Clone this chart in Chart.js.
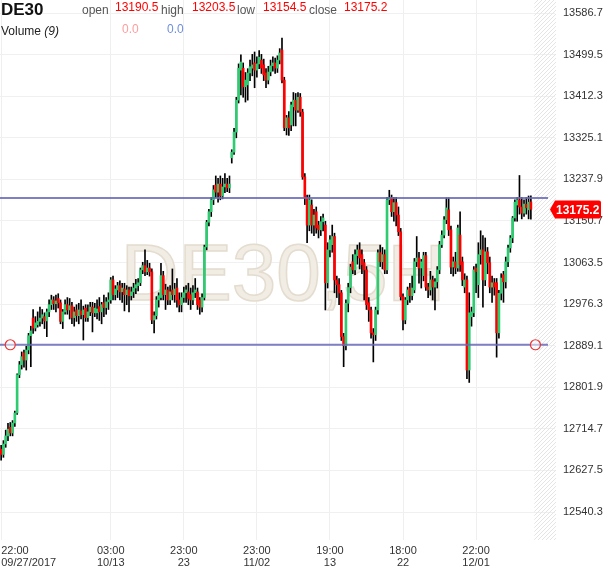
<!DOCTYPE html>
<html>
<head>
<meta charset="utf-8">
<title>DE30</title>
<script src="https://cdn.jsdelivr.net/npm/chart.js@4.4.1/dist/chart.umd.min.js"></script>
<style>
  body { margin: 0; background: #fff; font-family: "Liberation Sans", Arial, sans-serif; }
  #wrap { position: relative; width: 610px; height: 568px; overflow: hidden; }
  #chart { position: absolute; left: 0; top: 0; }
  .t { position: absolute; white-space: nowrap; line-height: 1; font-size: 12px; }
</style>
</head>
<body>
<div id="wrap">
  <canvas id="chart" width="610" height="568"></canvas>
  <span class="t" style="left:1px;top:1px;font-size:17px;font-weight:bold;color:#111">DE30</span>
  <span class="t" style="left:82px;top:4px;color:#555">open</span>
  <span class="t" style="left:115px;top:1px;color:#f00">13190.5</span>
  <span class="t" style="left:161px;top:4px;color:#555">high</span>
  <span class="t" style="left:192px;top:1px;color:#f00">13203.5</span>
  <span class="t" style="left:237px;top:4px;color:#555">low</span>
  <span class="t" style="left:263px;top:1px;color:#f00">13154.5</span>
  <span class="t" style="left:309px;top:4px;color:#555">close</span>
  <span class="t" style="left:344px;top:1px;color:#f00">13175.2</span>
  <span class="t" style="left:1px;top:25px;color:#222">Volume <i>(9)</i></span>
  <span class="t" style="left:122px;top:23px;color:#ff9c9c">0.0</span>
  <span class="t" style="left:167px;top:23px;color:#6f8fdc">0.0</span>
</div>
<script>
// 5H candles
const candleOpen = [
  12672, 12661, 12683, 12700, 12718, 12706, 12727, 12748, 12828, 12849,
  12874, 12859, 12880, 12910, 12947, 12926, 12933, 12940, 12947, 12950,
  12941, 12960, 12975, 12985, 12977, 12988, 12979, 12940, 12960, 12975,
  12964, 12973, 12948, 12964, 12952, 12962, 12954, 12968, 12948, 12960,
  12970, 12958, 12958, 12971, 12960, 12979, 12969, 12981, 12985, 13027,
  12996, 13006, 13015, 13002, 13008, 12996, 13006, 12994, 13002, 13010,
  13015, 13021, 13048, 13057, 13044, 13052, 13044, 12943, 12952, 12985,
  12990, 13036, 12996, 13006, 12985, 13006, 12996, 13010, 12985, 12975,
  12990, 13000, 13002, 12996, 12985, 13000, 13002, 12985, 12970, 12990,
  13096, 13148, 13170, 13195, 13226, 13211, 13228, 13203, 13222, 13228,
  13220, 13283, 13295, 13337, 13404, 13467, 13471, 13432, 13436, 13461,
  13471, 13482, 13467, 13480, 13488, 13478, 13461, 13446, 13463, 13476,
  13482, 13471, 13488, 13509, 13446, 13346, 13367, 13352, 13390, 13404,
  13383, 13410, 13379, 13243, 13199, 13142, 13184, 13142, 13170, 13142,
  13132, 13149, 13142, 13021, 13090, 13101, 13118, 13027, 13017, 13000,
  12908, 12889, 12978, 13011, 13065, 13048, 13078, 13090, 13080, 13063,
  13048, 12979, 12964, 12916, 12912, 12964, 13084, 13065, 13080, 13048,
  13195, 13199, 13170, 13189, 13163, 13128, 12992, 12943, 12985, 13010,
  12994, 13006, 13065, 13073, 13052, 13036, 13078, 13012, 13006, 13027,
  13012, 13023, 13048, 13101, 13121, 13153, 13174, 13132, 13054, 13065,
  13052, 13121, 13065, 13012, 13027, 12838, 12950, 12958, 13052, 13017,
  13080, 13090, 13027, 13086, 13063, 13012, 13021, 13021, 12916, 12999,
  13038, 13023, 13065, 13094, 13115, 13157, 13184, 13195, 13180, 13167,
  13186, 13174, 13190.5
];
const candleHigh = [
  12680, 12690, 12712, 12726, 12728, 12732, 12752, 12830, 12856, 12876,
  12880, 12888, 12915, 12930, 12965, 12950, 12960, 12970, 12965, 12958,
  12966, 12985, 12995, 12992, 12995, 12998, 12985, 12965, 12985, 12990,
  12988, 12980, 12970, 12975, 12978, 12985, 12972, 12975, 12975, 12980,
  12980, 12978, 12985, 12990, 12980, 12995, 12990, 13000, 13032, 13035,
  13015, 13022, 13025, 13020, 13020, 13015, 13012, 13012, 13020, 13028,
  13030, 13052, 13064, 13090, 13068, 13062, 13050, 12960, 12992, 13000,
  13062, 13045, 13018, 13012, 13015, 13050, 13020, 13030, 13000, 13000,
  13012, 13015, 13020, 13010, 13015, 13030, 13010, 12990, 12998, 13100,
  13152, 13175, 13200, 13225, 13245, 13240, 13245, 13240, 13250, 13240,
  13245, 13300, 13345, 13410, 13480, 13499, 13482, 13462, 13470, 13488,
  13500, 13505, 13495, 13508, 13500, 13490, 13470, 13475, 13488, 13495,
  13492, 13497, 13512, 13534, 13452, 13372, 13380, 13400, 13420, 13418,
  13420, 13418, 13385, 13250, 13205, 13205, 13195, 13175, 13180, 13150,
  13160, 13165, 13150, 13105, 13120, 13142, 13125, 13035, 13030, 13005,
  12915, 12985, 13020, 13060, 13080, 13090, 13100, 13105, 13090, 13070,
  13055, 12990, 12970, 12925, 12970, 13090, 13100, 13095, 13090, 13200,
  13215, 13205, 13200, 13200, 13180, 13135, 12998, 12990, 13012, 13020,
  13035, 13072, 13118, 13085, 13070, 13085, 13085, 13020, 13045, 13035,
  13030, 13055, 13108, 13130, 13160, 13199, 13199, 13140, 13075, 13085,
  13142, 13170, 13075, 13040, 13035, 13000, 12970, 13055, 13060, 13105,
  13130, 13120, 13115, 13095, 13075, 13035, 13030, 13030, 13005, 13040,
  13045, 13075, 13100, 13120, 13160, 13195, 13200, 13246, 13200, 13195,
  13200, 13203, 13203.5
];
const candleLow = [
  12649, 12655, 12676, 12690, 12700, 12700, 12720, 12745, 12822, 12840,
  12844, 12838, 12872, 12845, 12915, 12920, 12928, 12930, 12935, 12925,
  12908, 12950, 12965, 12965, 12960, 12968, 12935, 12925, 12955, 12955,
  12945, 12935, 12930, 12940, 12935, 12945, 12901, 12940, 12940, 12952,
  12918, 12950, 12945, 12942, 12935, 12950, 12955, 12965, 12978, 12985,
  12985, 12990, 12985, 12980, 12962, 12975, 12960, 12985, 12990, 12998,
  13004, 13015, 13040, 13036, 13038, 13035, 12935, 12916, 12945, 12970,
  12985, 12985, 12965, 12975, 12975, 12985, 12980, 12970, 12960, 12960,
  12980, 12980, 12975, 12965, 12975, 12990, 12965, 12955, 12960, 12985,
  13090, 13140, 13160, 13185, 13200, 13190, 13195, 13197, 13210, 13212,
  13210, 13272, 13290, 13325, 13398, 13415, 13410, 13400, 13404, 13445,
  13455, 13430, 13452, 13470, 13460, 13445, 13430, 13438, 13455, 13465,
  13460, 13462, 13480, 13440, 13340, 13331, 13330, 13340, 13350, 13350,
  13378, 13370, 13238, 13185, 13105, 13130, 13125, 13120, 13125, 13115,
  13120, 13130, 12964, 13010, 13075, 13085, 13000, 12990, 12975, 12900,
  12845, 12880, 12960, 13000, 13040, 13038, 13060, 13050, 13040, 12985,
  12965, 12940, 12905, 12855, 12900, 12955, 13055, 13050, 13040, 13040,
  13185, 13160, 13150, 13140, 13120, 12985, 12922, 12935, 12975, 12980,
  12985, 13000, 13055, 13020, 13010, 13025, 13005, 12990, 12995, 12985,
  12964, 13010, 13040, 13095, 13115, 13145, 13120, 13040, 13035, 13040,
  13045, 13045, 13015, 13000, 12820, 12812, 12930, 12950, 13000, 12990,
  13060, 12970, 13015, 13040, 13000, 12980, 12995, 12865, 12905, 12985,
  12980, 13010, 13055, 13085, 13105, 13150, 13150, 13165, 13155, 13160,
  13165, 13155, 13154.5
];
const candleClose = [
  12661, 12683, 12700, 12714, 12706, 12727, 12748, 12828, 12849, 12866,
  12859, 12880, 12910, 12920, 12926, 12937, 12940, 12947, 12954, 12941,
  12960, 12975, 12985, 12977, 12983, 12979, 12940, 12960, 12975, 12964,
  12973, 12948, 12960, 12952, 12964, 12954, 12964, 12948, 12960, 12970,
  12958, 12968, 12966, 12960, 12975, 12969, 12981, 12985, 13027, 12996,
  13008, 13015, 13002, 13010, 12996, 13006, 12994, 13002, 13010, 13017,
  13021, 13048, 13057, 13044, 13052, 13044, 12943, 12952, 12985, 12994,
  13036, 12996, 13006, 12985, 13002, 12996, 13008, 12985, 12975, 12990,
  13000, 13006, 12988, 12985, 13000, 13006, 12975, 12970, 12990, 13096,
  13148, 13170, 13195, 13216, 13211, 13228, 13203, 13222, 13228, 13220,
  13228, 13295, 13337, 13404, 13471, 13484, 13432, 13446, 13461, 13474,
  13478, 13467, 13480, 13494, 13471, 13457, 13446, 13463, 13476, 13482,
  13471, 13488, 13503, 13446, 13346, 13367, 13346, 13394, 13404, 13383,
  13410, 13379, 13243, 13199, 13142, 13195, 13142, 13163, 13136, 13132,
  13149, 13157, 13021, 13090, 13111, 13118, 13027, 13017, 13000, 12908,
  12889, 12978, 13011, 13054, 13048, 13080, 13090, 13073, 13059, 13048,
  12975, 12964, 12916, 12912, 12964, 13084, 13065, 13080, 13048, 13195,
  13199, 13170, 13189, 13163, 13128, 12992, 12943, 12985, 13006, 12994,
  13010, 13065, 13073, 13052, 13065, 13078, 13012, 13006, 13027, 13012,
  13023, 13048, 13101, 13121, 13153, 13178, 13132, 13054, 13065, 13052,
  13136, 13059, 13027, 13027, 12838, 12958, 12960, 13048, 13044, 13080,
  13090, 13027, 13086, 13063, 13012, 13021, 13012, 12916, 12999, 13031,
  13023, 13065, 13094, 13115, 13157, 13190, 13195, 13180, 13167, 13186,
  13178, 13190, 13175.2
];

// slots on the time axis (the last ones are the empty future area)
const slotCount = 240;
const xTickIdx = [0, 48, 80, 112, 144, 176, 208];
const xTickTime = ["22:00", "03:00", "23:00", "23:00", "19:00", "18:00", "22:00"];
const xTickDate = ["09/27/2017", "10/13", "23", "11/02", "13", "22", "12/01"];

const yTicks = [13586.7, 13499.5, 13412.3, 13325.1, 13237.9, 13150.7, 13063.5,
                12976.3, 12889.1, 12801.9, 12714.7, 12627.5, 12540.3];
const yMin = 12481.6;
const yMax = 13614.0;

// drawn trend lines and the handles on the lower one
const levelLines = [13199, 12891];
const handleIdx = [4, 234];
const watermark = "DE30,5H";

const FONT = '"Liberation Sans", Arial, sans-serif';
const GREEN = "#2ecc71";
const RED = "#ff0000";

const labels = [];
for (let i = 0; i < slotCount; i++) labels.push(String(i));

const tickText = {};
xTickIdx.forEach((idx, k) => { tickText[idx] = [xTickTime[k], xTickDate[k]]; });

// -------------------------------------------------------------------
// Extra drawing: hatch, watermark, level lines, price tag.
// -------------------------------------------------------------------
const overlay = {
  id: "overlay",
  beforeDatasetsDraw(chart) {
    const { ctx, chartArea: a, scales: { x } } = chart;
    ctx.save();

    // hatched area after the last candle
    const hx = x.getPixelForValue(candleClose.length) + 1;
    const hr = a.right + 8;
    ctx.beginPath();
    ctx.rect(hx, a.top, hr - hx, a.bottom - a.top);
    ctx.clip();
    ctx.strokeStyle = "#e4e4e4";
    ctx.lineWidth = 1;
    for (let s = a.top - 30; s < a.bottom + 30; s += 4) {
      ctx.beginPath();
      ctx.moveTo(hx, s + (hr - hx));
      ctx.lineTo(hr, s);
      ctx.stroke();
    }
    ctx.restore();

    // watermark
    ctx.save();
    ctx.font = "80px " + FONT;
    ctx.textAlign = "center";
    ctx.textBaseline = "alphabetic";
    ctx.fillStyle = "#f1ece4";
    ctx.strokeStyle = "#e4dccf";
    ctx.lineWidth = 1.5;
    ctx.fillText(watermark, 283, 300);
    ctx.strokeText(watermark, 283, 300);
    ctx.restore();
  },
  afterDatasetsDraw(chart) {
    const { ctx, chartArea: a, scales: { x, y } } = chart;
    ctx.save();
    ctx.strokeStyle = "rgba(105,105,185,0.85)";
    ctx.lineWidth = 2;
    levelLines.forEach(v => {
      const py = y.getPixelForValue(v);
      ctx.beginPath();
      ctx.moveTo(a.left, py);
      ctx.lineTo(a.right, py);
      ctx.stroke();
    });

    const ly = y.getPixelForValue(levelLines[1]);
    handleIdx.forEach(i => {
      ctx.beginPath();
      ctx.arc(x.getPixelForValue(i), ly, 5, 0, Math.PI * 2);
      ctx.fillStyle = "rgba(255,255,255,0.5)";
      ctx.fill();
      ctx.strokeStyle = "#ee3333";
      ctx.lineWidth = 1.2;
      ctx.stroke();
    });
    ctx.restore();
  },
  afterDraw(chart) {
    const { ctx, chartArea: a, scales: { y } } = chart;
    const last = candleClose[candleClose.length - 1];
    const py = Math.round(y.getPixelForValue(last)) + 0.5;
    const x0 = a.right + 2;
    ctx.save();
    ctx.fillStyle = RED;
    ctx.beginPath();
    ctx.moveTo(x0, py);
    ctx.lineTo(x0 + 5, py - 9);
    ctx.lineTo(x0 + 49, py - 9);
    ctx.quadraticCurveTo(x0 + 51, py - 9, x0 + 51, py - 7);
    ctx.lineTo(x0 + 51, py + 7);
    ctx.quadraticCurveTo(x0 + 51, py + 9, x0 + 49, py + 9);
    ctx.lineTo(x0 + 5, py + 9);
    ctx.closePath();
    ctx.fill();
    ctx.fillStyle = "#fff";
    ctx.font = "bold 12px " + FONT;
    ctx.textAlign = "left";
    ctx.textBaseline = "middle";
    ctx.fillText(last.toFixed(1), x0 + 6, py + 1);
    ctx.restore();
  }
};

new Chart(document.getElementById("chart").getContext("2d"), {
  type: "bar",
  data: {
    labels: labels,
    datasets: [
      {
        // body first in the list so it is drawn over the wick
        label: "body",
        data: candleOpen.map((o, i) => [o, candleClose[i]]),
        backgroundColor: candleOpen.map((o, i) => candleClose[i] >= o ? GREEN : RED),
        barThickness: 2,
        minBarLength: 1,
        borderWidth: 0,
        grouped: false
      },
      {
        label: "wick",
        data: candleLow.map((l, i) => [l, candleHigh[i]]),
        backgroundColor: "#000",
        barThickness: 1,
        borderWidth: 0,
        grouped: false
      }
    ]
  },
  options: {
    responsive: false,
    animation: false,
    events: [],
    layout: { padding: 0 },
    plugins: { legend: { display: false }, tooltip: { enabled: false } },
    scales: {
      x: {
        type: "category",
        offset: true,
        border: { display: false },
        grid: {
          offset: false,
          drawTicks: false,
          color: c => (tickText[c.index] ? "#efefef" : "rgba(0,0,0,0)")
        },
        ticks: {
          autoSkip: false,
          maxRotation: 0,
          minRotation: 0,
          align: "inner",
          padding: 5,
          color: "#333",
          font: { family: FONT, size: 11, lineHeight: 1.1 },
          callback: (v, i) => tickText[i] || ""
        },
        afterFit: s => { s.height = 28; s.paddingLeft = 0; s.paddingRight = 0; }
      },
      y: {
        position: "right",
        min: yMin,
        max: yMax,
        border: { display: false },
        grid: { color: "#f0f0f0", tickLength: 7 },
        afterBuildTicks: s => { s.ticks = yTicks.map(v => ({ value: v })); },
        ticks: {
          padding: 8,
          color: "#333",
          font: { family: FONT, size: 11 },
          callback: v => Number(v).toFixed(1)
        },
        afterFit: s => { s.width = 62; s.paddingTop = 0; s.paddingBottom = 0; }
      }
    }
  },
  plugins: [overlay]
});
</script>
</body>
</html>
